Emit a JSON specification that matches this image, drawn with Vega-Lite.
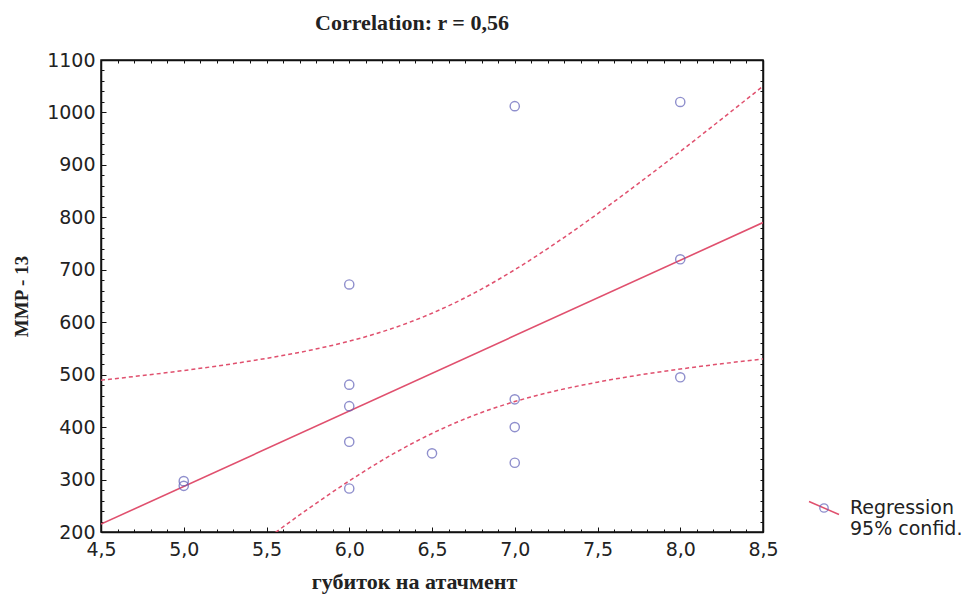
{
  "$schema": "https://vega.github.io/schema/vega-lite/v6.json",
  "width": 662,
  "height": 472,
  "autosize": {"type": "none"},
  "padding": {"left": 101, "top": 60, "right": 204, "bottom": 70},
  "background": "white",
  "title": {"text": "Correlation: r = 0,56", "font": "Liberation Serif", "fontSize": 22, "fontWeight": "bold", "color": "#222", "offset": 16, "dx": -20},
  "config": {
    "view": {"stroke": "#111", "strokeWidth": 1.5},
    "axis": {"grid": false, "domainColor": "#111", "domainWidth": 1.5, "tickColor": "#111", "labelColor": "#222", "labelFont": "DejaVu Sans", "labelFontSize": 19}
  },
  "datasets": {
    "pts": [
      {"x": 5.0, "y": 297}, {"x": 5.0, "y": 288},
      {"x": 6.0, "y": 672}, {"x": 6.0, "y": 481}, {"x": 6.0, "y": 440}, {"x": 6.0, "y": 372}, {"x": 6.0, "y": 283},
      {"x": 6.5, "y": 350},
      {"x": 7.0, "y": 1012}, {"x": 7.0, "y": 453}, {"x": 7.0, "y": 400}, {"x": 7.0, "y": 332},
      {"x": 8.0, "y": 1020}, {"x": 8.0, "y": 720}, {"x": 8.0, "y": 495}
    ],
    "reg": [{"x": 4.5, "y": 215}, {"x": 8.5, "y": 790}],
    "ci": [
      {"band": "upper", "x": 4.5, "y": 489.5}, {"band": "upper", "x": 4.75, "y": 498.3}, {"band": "upper", "x": 5.0, "y": 507.9},
      {"band": "upper", "x": 5.25, "y": 518.7}, {"band": "upper", "x": 5.5, "y": 531.1}, {"band": "upper", "x": 5.75, "y": 545.7},
      {"band": "upper", "x": 6.0, "y": 563.8}, {"band": "upper", "x": 6.25, "y": 587.1}, {"band": "upper", "x": 6.5, "y": 617.1},
      {"band": "upper", "x": 6.75, "y": 654.8}, {"band": "upper", "x": 7.0, "y": 700.1}, {"band": "upper", "x": 7.25, "y": 751.3},
      {"band": "upper", "x": 7.5, "y": 806.7}, {"band": "upper", "x": 7.75, "y": 865.2}, {"band": "upper", "x": 8.0, "y": 925.5},
      {"band": "upper", "x": 8.25, "y": 987.4}, {"band": "upper", "x": 8.5, "y": 1050},
      {"band": "lower", "x": 5.25, "y": 126.9}, {"band": "lower", "x": 5.5, "y": 186.5}, {"band": "lower", "x": 5.75, "y": 243.7},
      {"band": "lower", "x": 6.0, "y": 297.4}, {"band": "lower", "x": 6.25, "y": 346.1}, {"band": "lower", "x": 6.5, "y": 387.9},
      {"band": "lower", "x": 6.75, "y": 422.0}, {"band": "lower", "x": 7.0, "y": 448.7}, {"band": "lower", "x": 7.25, "y": 469.3},
      {"band": "lower", "x": 7.5, "y": 485.7}, {"band": "lower", "x": 7.75, "y": 499.2}, {"band": "lower", "x": 8.0, "y": 510.7},
      {"band": "lower", "x": 8.25, "y": 520.8}, {"band": "lower", "x": 8.5, "y": 530}
    ]
  },
  "layer": [
    {
      "data": {"name": "ci"},
      "mark": {"type": "line", "color": "#e0506e", "strokeWidth": 1.5, "strokeDash": [4, 3], "interpolate": "monotone", "clip": true},
      "encoding": {
        "x": {"field": "x", "type": "quantitative", "scale": {"domain": [4.5, 8.5], "nice": false, "zero": false}, "axis": null},
        "y": {"field": "y", "type": "quantitative", "scale": {"domain": [200, 1100], "nice": false, "zero": false}, "axis": null},
        "detail": {"field": "band"}
      }
    },
    {
      "data": {"name": "reg"},
      "mark": {"type": "line", "strokeWidth": 1.6, "clip": true},
      "encoding": {
        "x": {"field": "x", "type": "quantitative", "scale": {"domain": [4.5, 8.5], "nice": false, "zero": false},
          "axis": {"orient": "top", "title": null, "labels": false, "domain": true,
            "values": [4.5,4.6,4.7,4.8,4.9,5.0,5.1,5.2,5.3,5.4,5.5,5.6,5.7,5.8,5.9,6.0,6.1,6.2,6.3,6.4,6.5,6.6,6.7,6.8,6.9,7.0,7.1,7.2,7.3,7.4,7.5,7.6,7.7,7.8,7.9,8.0,8.1,8.2,8.3,8.4,8.5],
            "tickSize": -3}},
        "y": {"field": "y", "type": "quantitative", "scale": {"domain": [200, 1100], "nice": false, "zero": false},
          "axis": {"orient": "right", "title": null, "labels": false, "domain": true,
            "values": [200,220,240,260,280,300,320,340,360,380,400,420,440,460,480,500,520,540,560,580,600,620,640,660,680,700,720,740,760,780,800,820,840,860,880,900,920,940,960,980,1000,1020,1040,1060,1080,1100],
            "tickSize": -3}},
        "color": {"datum": "Regression", "scale": {"domain": ["Regression", "95% confid."], "range": ["#e0506e", "transparent"]},
          "legend": {"orient": "none", "legendX": 712, "legendY": 437, "title": null, "padding": 0, "rowPadding": 0,
            "symbolType": "M-1.5,-0.65L1.5,0.65", "symbolSize": 400, "symbolStrokeWidth": 1.5, "symbolFillColor": "transparent",
            "labelFont": "DejaVu Sans", "labelFontSize": 19, "labelColor": "#222", "labelOffset": 15}}
      }
    },
    {
      "data": {"name": "pts"},
      "mark": {"type": "point", "filled": false, "stroke": "#6060b8", "strokeWidth": 1.4, "size": 85},
      "encoding": {
        "x": {"field": "x", "type": "quantitative", "scale": {"domain": [4.5, 8.5], "nice": false, "zero": false},
          "axis": {"orient": "bottom", "title": "губиток на атачмент", "titleFont": "Liberation Serif", "titleFontSize": 22, "titleFontWeight": "bold", "titleColor": "#222", "titlePadding": 10, "titleX": 313,
            "values": [4.5,4.6,4.7,4.8,4.9,5.0,5.1,5.2,5.3,5.4,5.5,5.6,5.7,5.8,5.9,6.0,6.1,6.2,6.3,6.4,6.5,6.6,6.7,6.8,6.9,7.0,7.1,7.2,7.3,7.4,7.5,7.6,7.7,7.8,7.9,8.0,8.1,8.2,8.3,8.4,8.5],
            "labelExpr": "abs(datum.value*2 - round(datum.value*2)) < 0.01 ? replace(format(datum.value, '.1f'), '.', ',') : ''",
            "tickSize": {"condition": {"test": "abs(datum.value*2 - round(datum.value*2)) < 0.01", "value": -5}, "value": -3},
            "labelPadding": 13, "labelFlush": false, "labelOverlap": false}},
        "y": {"field": "y", "type": "quantitative", "scale": {"domain": [200, 1100], "nice": false, "zero": false},
          "axis": {"orient": "left", "title": "MMP - 13", "titleFont": "Liberation Serif", "titleFontSize": 19, "titleFontWeight": "bold", "titleColor": "#222", "titlePadding": 15,
            "values": [200,220,240,260,280,300,320,340,360,380,400,420,440,460,480,500,520,540,560,580,600,620,640,660,680,700,720,740,760,780,800,820,840,860,880,900,920,940,960,980,1000,1020,1040,1060,1080,1100],
            "format": "d",
            "labelExpr": "datum.value % 100 == 0 ? datum.label : ''",
            "tickSize": {"condition": {"test": "datum.value % 100 == 0", "value": -5}, "value": -3},
            "labelPadding": 11, "labelFlush": false, "labelOverlap": false}},
        "shape": {"datum": "pt", "scale": {"domain": ["pt"], "range": ["circle"]},
          "legend": {"orient": "none", "legendX": 718, "legendY": 443, "title": null, "padding": 0, "labelExpr": "''",
            "symbolSize": 70, "symbolStrokeColor": "#6060b8", "symbolFillColor": "white", "symbolStrokeWidth": 1.3}}
      }
    }
  ]
}
